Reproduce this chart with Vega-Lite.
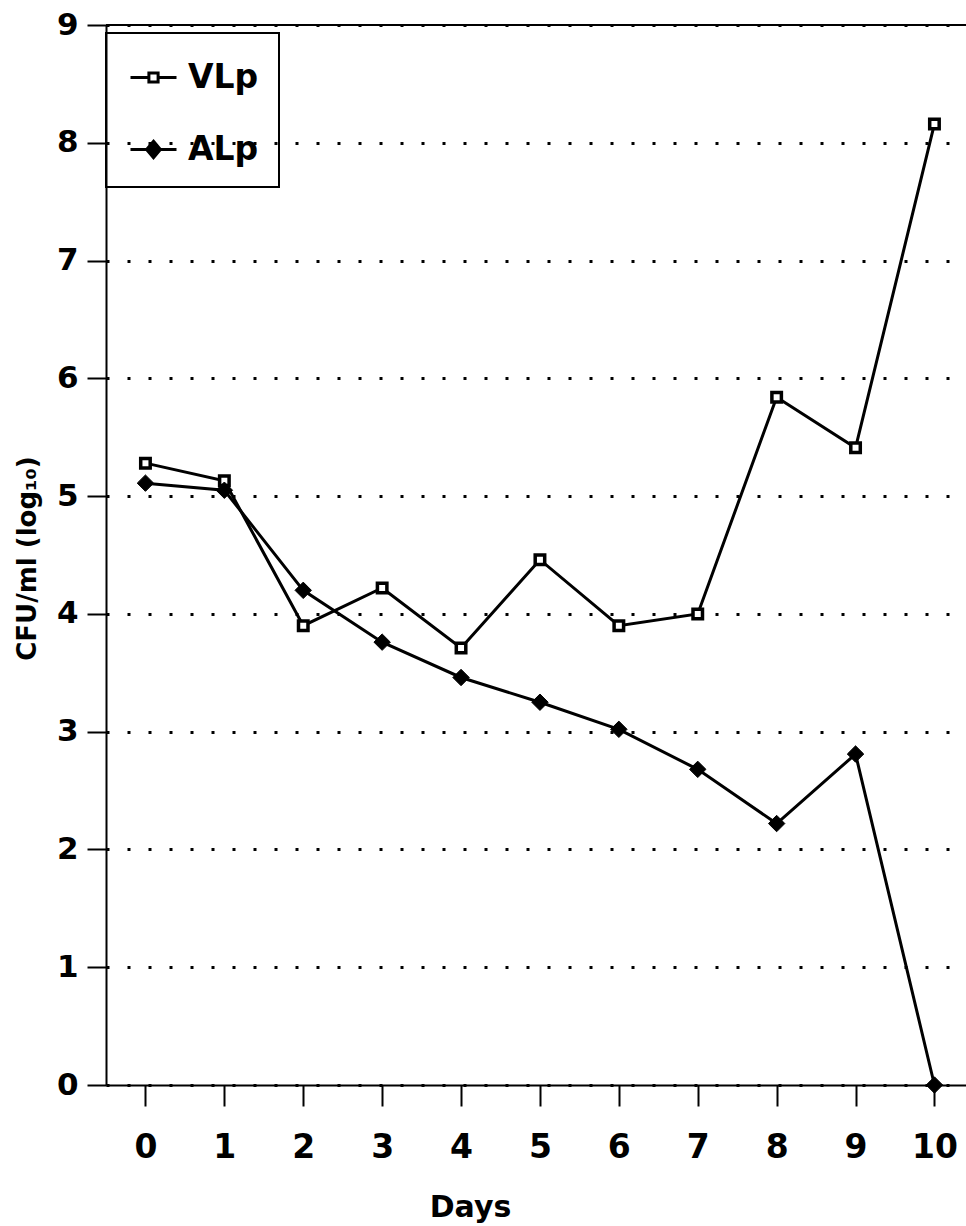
{
  "$schema": "https://vega.github.io/schema/vega-lite/v6.json",
  "autosize": {"type": "none"},
  "padding": {"left": 106, "top": 25, "right": 0, "bottom": 141},
  "width": 860,
  "height": 1060,
  "background": "white",
  "config": {
    "view": {"stroke": null},
    "font": "DejaVu Sans",
    "axis": {
      "domainColor": "black",
      "domainWidth": 2,
      "tickColor": "black",
      "tickWidth": 2,
      "labelColor": "black",
      "labelFont": "DejaVu Sans",
      "labelFontWeight": "bold",
      "titleColor": "black",
      "titleFont": "DejaVu Sans",
      "titleFontWeight": "bold"
    },
    "legend": {
      "symbolOpacity": 1
    }
  },
  "data": {
    "values": [
      {"day": 0, "series": "VLp", "cfu": 5.28},
      {"day": 1, "series": "VLp", "cfu": 5.13},
      {"day": 2, "series": "VLp", "cfu": 3.90},
      {"day": 3, "series": "VLp", "cfu": 4.22},
      {"day": 4, "series": "VLp", "cfu": 3.71},
      {"day": 5, "series": "VLp", "cfu": 4.46},
      {"day": 6, "series": "VLp", "cfu": 3.90},
      {"day": 7, "series": "VLp", "cfu": 4.00},
      {"day": 8, "series": "VLp", "cfu": 5.84},
      {"day": 9, "series": "VLp", "cfu": 5.41},
      {"day": 10, "series": "VLp", "cfu": 8.16},
      {"day": 0, "series": "ALp", "cfu": 5.11},
      {"day": 1, "series": "ALp", "cfu": 5.05},
      {"day": 2, "series": "ALp", "cfu": 4.20},
      {"day": 3, "series": "ALp", "cfu": 3.76},
      {"day": 4, "series": "ALp", "cfu": 3.46},
      {"day": 5, "series": "ALp", "cfu": 3.25},
      {"day": 6, "series": "ALp", "cfu": 3.02},
      {"day": 7, "series": "ALp", "cfu": 2.68},
      {"day": 8, "series": "ALp", "cfu": 2.22},
      {"day": 9, "series": "ALp", "cfu": 2.81},
      {"day": 10, "series": "ALp", "cfu": 0}
    ]
  },
  "encoding": {
    "x": {
      "field": "day",
      "type": "quantitative",
      "scale": {"domain": [-0.5, 10.4], "nice": false, "zero": false},
      "axis": {
        "title": "Days",
        "values": [0, 1, 2, 3, 4, 5, 6, 7, 8, 9, 10],
        "grid": false,
        "tickSize": 21,
        "labelFontSize": 33,
        "labelBaseline": "alphabetic",
        "labelPadding": 51,
        "labelFlush": false,
        "titleFontSize": 30,
        "titleX": 364,
        "titleY": 131,
        "titleBaseline": "alphabetic",
        "titleAlign": "center"
      }
    },
    "y": {
      "field": "cfu",
      "type": "quantitative",
      "scale": {"domain": [0, 9], "nice": false},
      "axis": {
        "title": "CFU/ml (log₁₀)",
        "values": [0, 1, 2, 3, 4, 5, 6, 7, 8, 9],
        "grid": true,
        "gridColor": "black",
        "gridDash": [3, 18],
        "gridWidth": 3,
        "tickSize": 19,
        "labelFontSize": 31,
        "labelPadding": 9,
        "labelBaseline": "middle",
        "labelFlush": false,
        "titleFontSize": 26,
        "titleAngle": -90,
        "titleX": -71,
        "titleY": 533,
        "titleBaseline": "alphabetic",
        "titleAlign": "center"
      }
    }
  },
  "layer": [
    {
      "mark": {"type": "rule", "color": "black", "strokeWidth": 2},
      "encoding": {"y": {"datum": 9}, "x": null}
    },
    {
      "mark": {"type": "line", "color": "black", "strokeWidth": 3},
      "encoding": {"detail": {"field": "series"}}
    },
    {
      "transform": [{"filter": "datum.series === 'VLp'"}],
      "mark": {"type": "point", "shape": "square", "size": 90, "filled": true, "fill": "white", "stroke": "black", "strokeWidth": 3.5, "opacity": 1}
    },
    {
      "transform": [{"filter": "datum.series === 'ALp'"}],
      "mark": {"type": "point", "shape": "diamond", "size": 270, "filled": true, "fill": "black", "stroke": "black", "strokeWidth": 1, "opacity": 1}
    },
    {
      "mark": {"type": "point", "opacity": 0, "stroke": "black", "strokeWidth": 2.5},
      "encoding": {
        "shape": {
          "field": "series",
          "type": "nominal",
          "scale": {
            "domain": ["VLp", "ALp"],
            "range": [
              "M-1,0H-0.2M0.2,0H1M-0.2,-0.2H0.2V0.2H-0.2Z",
              "M-1,0H1M0,-0.36L0.3,0L0,0.36L-0.3,0Z"
            ]
          },
          "legend": {
            "title": null,
            "orient": "none",
            "legendX": 0,
            "legendY": 8,
            "strokeColor": "black",
            "padding": 20,
            "rowPadding": 30,
            "symbolOffset": 3,
            "symbolSize": 2116,
            "symbolStrokeColor": "black",
            "symbolStrokeWidth": 3,
            "labelFont": "DejaVu Sans",
            "labelFontSize": 33,
            "labelFontWeight": "bold",
            "labelColor": "black",
            "labelOffset": 10,
            "encode": {"legend": {"update": {"strokeWidth": {"value": 2}}}}
          }
        },
        "fill": {
          "field": "series",
          "type": "nominal",
          "scale": {"domain": ["VLp", "ALp"], "range": ["white", "black"]},
          "legend": {
            "title": null,
            "orient": "none",
            "legendX": 0,
            "legendY": 8,
            "strokeColor": "black",
            "padding": 20,
            "rowPadding": 30,
            "symbolOffset": 3,
            "symbolSize": 2116,
            "symbolStrokeColor": "black",
            "symbolStrokeWidth": 3,
            "labelFont": "DejaVu Sans",
            "labelFontSize": 33,
            "labelFontWeight": "bold",
            "labelColor": "black",
            "labelOffset": 10,
            "encode": {"legend": {"update": {"strokeWidth": {"value": 2}}}}
          }
        }
      }
    }
  ]
}
